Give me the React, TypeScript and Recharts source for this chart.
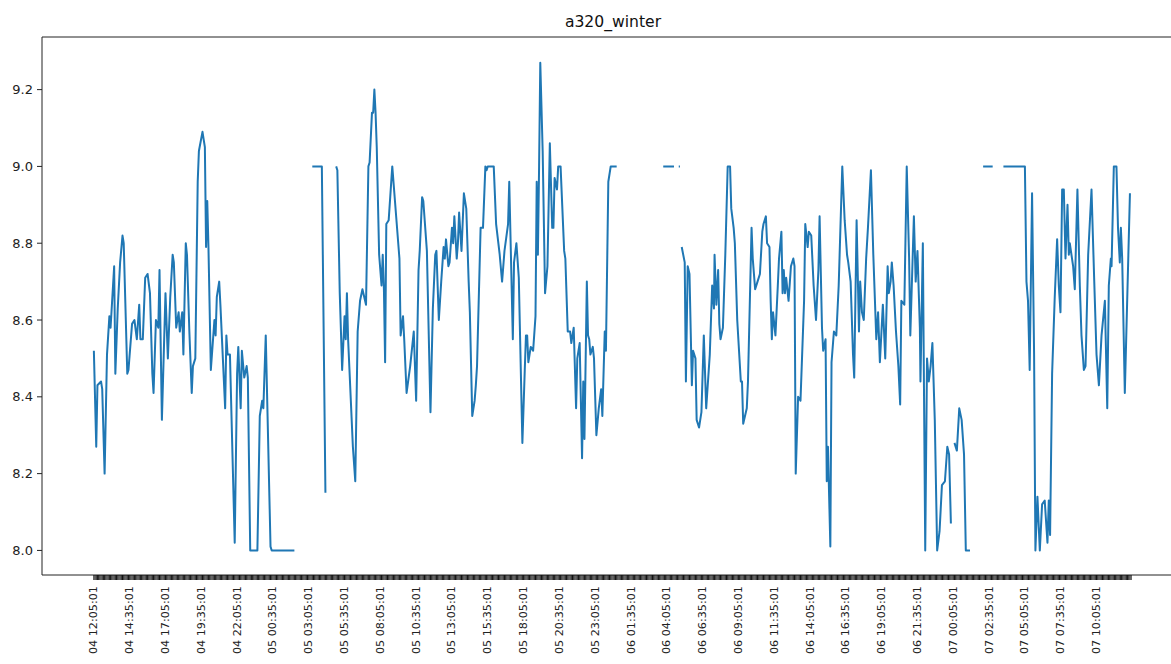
import React from 'react';
import { LineChart, Line, XAxis, YAxis, ReferenceLine } from 'recharts';

// sample position (5‑minute step index) and value; null = gap
const pointIdx: number[] = [
  0, 2, 3, 6, 7, 9, 11, 13, 14, 17, 18, 20, 22, 24, 25, 28, 29, 32, 34, 36, 38, 39, 41, 43, 45, 47, 49, 50, 52, 54,
  55, 57, 60, 62, 64, 66, 67, 69, 71, 72, 74, 75, 77, 78, 80, 82, 83, 85, 87, 88, 91, 93, 94, 95, 96, 98, 101, 102, 103, 105,
  106, 110, 111, 112, 114, 118, 120, 121, 123, 124, 126, 128, 129, 131, 137, 139, 141, 142, 144, 148, 149, 168, 175,
  183, 191, 194, 198,
  203, 204, 206, 208, 210, 211, 212, 213, 217, 219, 221, 223, 225, 228, 230, 231, 233, 234, 235, 236, 237, 239, 241, 242,
  243, 244, 245, 247, 250, 253, 256, 257, 259, 260, 262, 265, 268, 270, 272, 273, 275, 276, 279, 282, 284, 286, 287, 289,
  291, 293, 294, 295, 297, 298, 300, 301, 302, 304, 305, 306, 308, 310, 312, 314, 315, 317, 319, 320, 321, 324, 326, 328,
  329, 330, 335, 337, 340, 342, 344, 347, 348, 351, 352, 354, 356, 359, 361, 362, 363, 364, 366, 368, 370, 371, 372, 373,
  374, 376, 378, 380, 382, 384, 385, 386, 388, 389, 391, 394, 395, 397, 399, 400, 402, 404, 405, 407, 409, 410, 411, 413,
  414, 415, 416, 418, 419, 421, 423, 425, 426, 428, 429, 431, 433, 438, 455,
  477, 486, 488, 490, 491, 491.7,
  492.5, 495, 496, 497.5, 499, 501, 502, 504, 505, 507, 509, 511, 513, 516, 518, 519.5, 520, 521.5, 523, 524, 525, 527,
  529, 531, 533, 534, 536, 537, 539, 542, 543, 544, 547, 548, 551, 552, 554, 556, 558, 560, 561, 563, 564, 566, 567, 568,
  569, 571, 573, 574, 576, 577, 578, 579, 580, 582, 584, 586, 587, 588, 590, 592, 595, 596, 598, 599, 601, 603, 605, 607,
  608, 610, 611, 613, 614, 615, 617, 618, 620, 622, 624, 627, 629, 631, 632, 634, 636, 637, 639, 641, 642, 643.5, 645, 647,
  648.5, 651, 653, 655.5, 657, 658.5, 661, 663, 665, 666, 667.5, 668.5, 670, 672, 674, 675.5, 676.5, 679, 681, 683, 684,
  687, 688.5, 690, 692, 692.5, 694.5, 696.5, 698, 699.5, 701, 702.5, 704.5, 706.5, 708.5, 710.5, 713, 715, 716.5, 718, 719.5,
  721, 723, 725, 727, 729, 730.5, 734, 740,
  745, 753, 757,
  762, 780, 781.3, 782.6, 784, 786, 787.7, 788.8, 790.5, 792.5, 794.4, 796.6, 798.9, 800, 801.1, 802.8, 805, 807, 808.4,
  809.8, 811.2, 812.6, 814, 815.7, 816.8, 817.6, 820.4, 821.8, 824, 826, 827.4, 829.4, 830.8, 833, 835.8, 838, 840, 842,
  844.2, 847, 849, 850.3, 852, 852.6, 854.5, 856.7, 858, 859.5, 860.4, 861.5, 863.7, 868,
];

const pointVal: (number | null)[] = [
  8.52, 8.27, 8.43, 8.44, 8.42, 8.2, 8.51, 8.61, 8.58, 8.74, 8.46, 8.63, 8.75, 8.82, 8.8, 8.46, 8.47, 8.59, 8.6, 8.55, 8.64, 8.55, 8.55, 8.71, 8.72, 8.67, 8.46, 8.41, 8.6, 8.58,
  8.73, 8.34, 8.67, 8.5, 8.66, 8.77, 8.75, 8.58, 8.62, 8.57, 8.62, 8.51, 8.8, 8.77, 8.57, 8.41, 8.48, 8.5, 8.96, 9.04, 9.09, 9.05, 8.79, 8.91, 8.79, 8.47, 8.6, 8.56, 8.66, 8.7,
  8.64, 8.37, 8.56, 8.51, 8.51, 8.02, 8.46, 8.53, 8.37, 8.52, 8.45, 8.48, 8.45, 8.0, 8.0, 8.35, 8.39, 8.37, 8.56, 8.01, 8.0, 8.0, null,
  9.0, 9.0, 8.15, null,
  9.0, 8.99, 8.67, 8.47, 8.61, 8.55, 8.67, 8.55, 8.27, 8.18, 8.57, 8.65, 8.68, 8.64, 9.0, 9.01, 9.14, 9.14, 9.2, 9.14, 9.05, 8.77, 8.69, 8.77,
  8.68, 8.49, 8.85, 8.86, 9.0, 8.88, 8.76, 8.56, 8.61, 8.55, 8.41, 8.48, 8.57, 8.39, 8.73, 8.78, 8.92, 8.91, 8.78, 8.36, 8.63, 8.77, 8.78, 8.6,
  8.7, 8.79, 8.76, 8.81, 8.74, 8.75, 8.84, 8.8, 8.87, 8.76, 8.8, 8.88, 8.78, 8.93, 8.89, 8.7, 8.62, 8.35, 8.39, 8.43, 8.48, 8.84, 8.84, 9.0,
  8.99, 9.0, 9.0, 8.85, 8.77, 8.7, 8.78, 8.85, 8.96, 8.55, 8.75, 8.8, 8.71, 8.28, 8.47, 8.56, 8.56, 8.49, 8.53, 8.52, 8.61, 8.96, 8.77, 9.0,
  9.27, 9.04, 8.67, 8.74, 9.06, 8.84, 8.84, 8.97, 8.94, 9.0, 9.0, 8.78, 8.76, 8.57, 8.57, 8.54, 8.58, 8.37, 8.5, 8.54, 8.24, 8.44, 8.29, 8.7,
  8.56, 8.55, 8.51, 8.53, 8.5, 8.3, 8.37, 8.42, 8.35, 8.57, 8.52, 8.96, 9.0, 9.0, null,
  9.0, 9.0, null, 9.0, 9.0, null,
  8.79, 8.75, 8.44, 8.74, 8.72, 8.43, 8.52, 8.5, 8.34, 8.32, 8.36, 8.56, 8.37, 8.51, 8.69, 8.63, 8.77, 8.64, 8.73, 8.59, 8.55, 8.58,
  8.77, 9.0, 9.0, 8.89, 8.84, 8.8, 8.6, 8.44, 8.44, 8.33, 8.37, 8.44, 8.84, 8.76, 8.68, 8.7, 8.72, 8.83, 8.85, 8.87, 8.8, 8.79, 8.65, 8.55,
  8.62, 8.56, 8.69, 8.76, 8.83, 8.67, 8.73, 8.67, 8.71, 8.65, 8.74, 8.76, 8.74, 8.2, 8.4, 8.39, 8.65, 8.85, 8.79, 8.83, 8.82, 8.69, 8.6, 8.73,
  8.87, 8.58, 8.52, 8.55, 8.18, 8.27, 8.01, 8.49, 8.57, 8.56, 8.69, 9.0, 8.86, 8.77, 8.75, 8.7, 8.51, 8.45, 8.86, 8.57, 8.7, 8.62, 8.6, 8.76,
  8.84, 8.99, 8.77, 8.55, 8.62, 8.49, 8.64, 8.5, 8.74, 8.67, 8.7, 8.75, 8.69, 8.57, 8.48, 8.38, 8.65, 8.64, 9.0, 8.76, 8.56,
  8.87, 8.7, 8.78, 8.58, 8.44, 8.8, 8.0, 8.5, 8.44, 8.48, 8.54, 8.34, 8.0, 8.05, 8.17, 8.18, 8.27, 8.25, 8.07, null,
  8.28, 8.26, 8.37, 8.34, 8.25, 8.0, 8.0, null,
  9.0, 9.0, null,
  9.0, 9.0, 8.7, 8.65, 8.47, 8.93, 8.51, 8.0, 8.14, 8.0, 8.12, 8.13, 8.02, 8.13, 8.04, 8.46, 8.66, 8.81, 8.69,
  8.62, 8.94, 8.94, 8.76, 8.9, 8.77, 8.8, 8.74, 8.68, 8.94, 8.69, 8.56, 8.47, 8.48, 8.77, 8.94, 8.71, 8.51, 8.43,
  8.56, 8.65, 8.37, 8.69, 8.76, 8.74, 9.0, 9.0, 8.84, 8.75, 8.84, 8.76, 8.41, 8.93,
];

const xLabels: string[] = [
  '04 12:05:01', '04 14:35:01', '04 17:05:01', '04 19:35:01', '04 22:05:01', '05 00:35:01', '05 03:05:01',
  '05 05:35:01', '05 08:05:01', '05 10:35:01', '05 13:05:01', '05 15:35:01', '05 18:05:01', '05 20:35:01',
  '05 23:05:01', '06 01:35:01', '06 04:05:01', '06 06:35:01', '06 09:05:01', '06 11:35:01', '06 14:05:01',
  '06 16:35:01', '06 19:05:01', '06 21:35:01', '07 00:05:01', '07 02:35:01', '07 05:05:01', '07 07:35:01',
  '07 10:05:01',
];

const yTicks: number[] = [8.0, 8.2, 8.4, 8.6, 8.8, 9.0, 9.2];

const sampleCount = 870;
const labelEvery = 30;
const xMargin = (sampleCount - 1) * 0.05;
const xDomain: [number, number] = [-xMargin, sampleCount - 1 + xMargin];
const yDomain: [number, number] = [7.936, 9.337];
const xTicks: number[] = Array.from({ length: sampleCount }, (_, i) => i);

const chartData = pointIdx.map((t, i) => ({ t, v: pointVal[i] }));

const FONT = '"DejaVu Sans", sans-serif';

const XTick = (props: any) => {
  const { x, y, payload } = props;
  const v = payload?.value;
  if (v % labelEvery !== 0) return <g />;
  const label = xLabels[v / labelEvery];
  const ty = y + 4;
  return (
    <text
      x={x}
      y={ty}
      transform={`rotate(-90 ${x} ${ty})`}
      textAnchor="end"
      dominantBaseline="central"
      fontSize={11.2}
      fontFamily={FONT}
      fill="#222"
    >
      {label}
    </text>
  );
};

export default function App() {
  return (
    <div
      style={{
        position: 'fixed',
        left: 0,
        top: 0,
        width: 1171,
        height: 664,
        overflow: 'hidden',
        background: '#fff',
      }}
    >
      <div
        style={{
          position: 'absolute',
          left: 0,
          width: 1226,
          top: 13,
          lineHeight: '18px',
          textAlign: 'center',
          fontFamily: FONT,
          fontSize: 15.6,
          color: '#111',
        }}
      >
        a320_winter
      </div>
      <LineChart
        width={1190}
        height={700}
        data={chartData}
        margin={{ top: 37, right: 7, bottom: 0, left: 0 }}
      >
        <XAxis
          dataKey="t"
          type="number"
          domain={xDomain}
          allowDataOverflow
          ticks={xTicks}
          interval={0}
          tickSize={5}
          tickMargin={2}
          height={125}
          axisLine={{ stroke: '#222', strokeWidth: 1 }}
          tickLine={{ stroke: '#111', strokeWidth: 1 }}
          tick={XTick}
        />
        <YAxis
          type="number"
          domain={yDomain}
          allowDataOverflow
          ticks={yTicks}
          interval={0}
          width={42}
          tickSize={5}
          tickMargin={4}
          axisLine={{ stroke: '#222', strokeWidth: 1 }}
          tickLine={{ stroke: '#222', strokeWidth: 1 }}
          tickFormatter={(v: number) => v.toFixed(1)}
          tick={{ fontSize: 13, fontFamily: FONT, fill: '#222' }}
        />
        <ReferenceLine y={yDomain[1]} stroke="#222" strokeWidth={1} />
        <Line
          type="linear"
          dataKey="v"
          stroke="#1f77b4"
          strokeWidth={2}
          dot={false}
          activeDot={false}
          connectNulls={false}
          isAnimationActive={false}
          strokeLinejoin="round"
        />
      </LineChart>
    </div>
  );
}
